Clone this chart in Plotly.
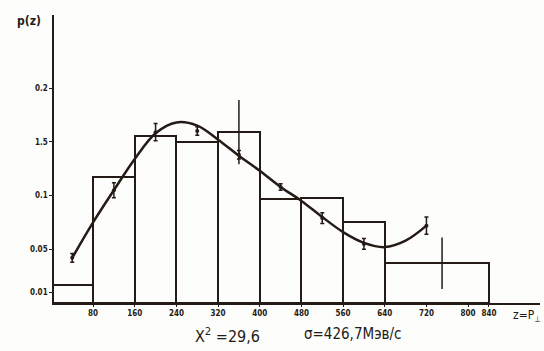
import plotly.graph_objects as go

# Histogram bins (z = P_perp, MeV/c)
bin_left = [0, 80, 160, 240, 320, 400, 480, 560, 640]
bin_right = [80, 160, 240, 320, 400, 480, 560, 640, 840]
bin_p = [0.017, 0.117, 0.155, 0.150, 0.159, 0.097, 0.098, 0.075, 0.037]

# Error bars on histogram bins
hist_err_z = [360, 750]
hist_err_p = [0.159, 0.037]
hist_err = [0.030, 0.024]

# Data points with error bars
pt_z = [40, 120, 200, 280, 360, 440, 520, 600, 720]
pt_p = [0.042, 0.105, 0.159, 0.160, 0.138, 0.108, 0.079, 0.055, 0.072]
pt_err = [0.004, 0.007, 0.008, 0.004, 0.004, 0.003, 0.005, 0.005, 0.008]

# Smooth curve
curve_z = [40, 80, 120, 160, 200, 240, 280, 320, 360, 400, 440, 480, 520, 560, 600, 640, 680, 720]
curve_p = [0.042, 0.075, 0.105, 0.134, 0.158, 0.168, 0.165, 0.152, 0.137, 0.123, 0.108, 0.095, 0.080, 0.066, 0.056, 0.052, 0.058, 0.072]

# Tick labels
x_ticks = [80, 160, 240, 320, 400, 480, 560, 640, 720, 800, 840]
x_labels = ["80", "160", "240", "320", "400", "480", "560", "640", "720", "800", "840"]
y_ticks = [0.01, 0.05, 0.1, 0.15, 0.2]
y_labels = ["0.01", "0.05", "0.1", "1.5", "0.2"]

INK = "#241b16"
FONT = "DejaVu Sans Condensed, DejaVu Sans, sans-serif"

centers = [(a + b) / 2 for a, b in zip(bin_left, bin_right)]
widths = [b - a for a, b in zip(bin_left, bin_right)]

fig = go.Figure()
fig.add_trace(go.Bar(
    x=centers, y=bin_p, width=widths,
    marker=dict(color="rgba(0,0,0,0)", line=dict(color=INK, width=2)),
    showlegend=False, hoverinfo="skip",
))
fig.add_trace(go.Scatter(
    x=hist_err_z, y=hist_err_p, mode="markers",
    marker=dict(size=1, color=INK),
    error_y=dict(type="data", array=hist_err, visible=True, color=INK, thickness=1.5, width=0),
    showlegend=False, hoverinfo="skip",
))
fig.add_trace(go.Scatter(
    x=curve_z, y=curve_p, mode="lines",
    line=dict(color=INK, width=2.5, shape="spline", smoothing=1.0),
    showlegend=False, hoverinfo="skip",
))
fig.add_trace(go.Scatter(
    x=pt_z, y=pt_p, mode="markers",
    marker=dict(size=4, color=INK),
    error_y=dict(type="data", array=pt_err, visible=True, color=INK, thickness=1.5, width=2),
    showlegend=False, hoverinfo="skip",
))

fig.update_layout(
    width=544, height=351,
    margin=dict(l=54, r=4, t=15, b=48),
    paper_bgcolor="#fdfdfb", plot_bgcolor="#fdfdfb",
    font=dict(family=FONT, color=INK, size=8),
    bargap=0,
    xaxis=dict(
        range=[5, 938], showgrid=False, zeroline=False,
        showline=True, linecolor=INK, linewidth=1.5,
        tickmode="array", tickvals=x_ticks, ticktext=x_labels,
        ticks="outside", ticklen=2, tickcolor=INK,
        tickfont=dict(family=FONT, size=8, color=INK, weight="bold"),
    ),
    yaxis=dict(
        range=[0, 0.268], showgrid=False, zeroline=False,
        showline=True, linecolor=INK, linewidth=1.5,
        tickmode="array", tickvals=y_ticks, ticktext=y_labels,
        ticks="outside", ticklen=3, tickcolor=INK,
        tickfont=dict(family=FONT, size=8, color=INK, weight="bold"),
    ),
    annotations=[
        dict(text="<b>p(z)</b>", xref="paper", yref="paper", x=-0.08, y=0.98,
             xanchor="left", yanchor="middle", showarrow=False,
             font=dict(family=FONT, size=12, color=INK)),
        dict(text="z=P<sub>⊥</sub>", xref="paper", yref="paper", x=0.94, y=0,
             xanchor="left", yanchor="top", yshift=-3, showarrow=False,
             font=dict(family=FONT, size=12, color=INK)),
        dict(text="X<sup>2</sup> =29,6", xref="paper", yref="paper", x=0.285, y=0,
             xanchor="left", yanchor="top", yshift=-20, showarrow=False,
             font=dict(family=FONT, size=16, color=INK)),
        dict(text="σ=426,7Мэв/с", xref="paper", yref="paper", x=0.51, y=0,
             xanchor="left", yanchor="top", yshift=-20, showarrow=False,
             font=dict(family=FONT, size=15, color=INK)),
    ],
)

fig.write_html("out.html", config={"displayModeBar": False},
               post_script="document.body.style.margin='0';document.body.style.overflow='hidden';")
